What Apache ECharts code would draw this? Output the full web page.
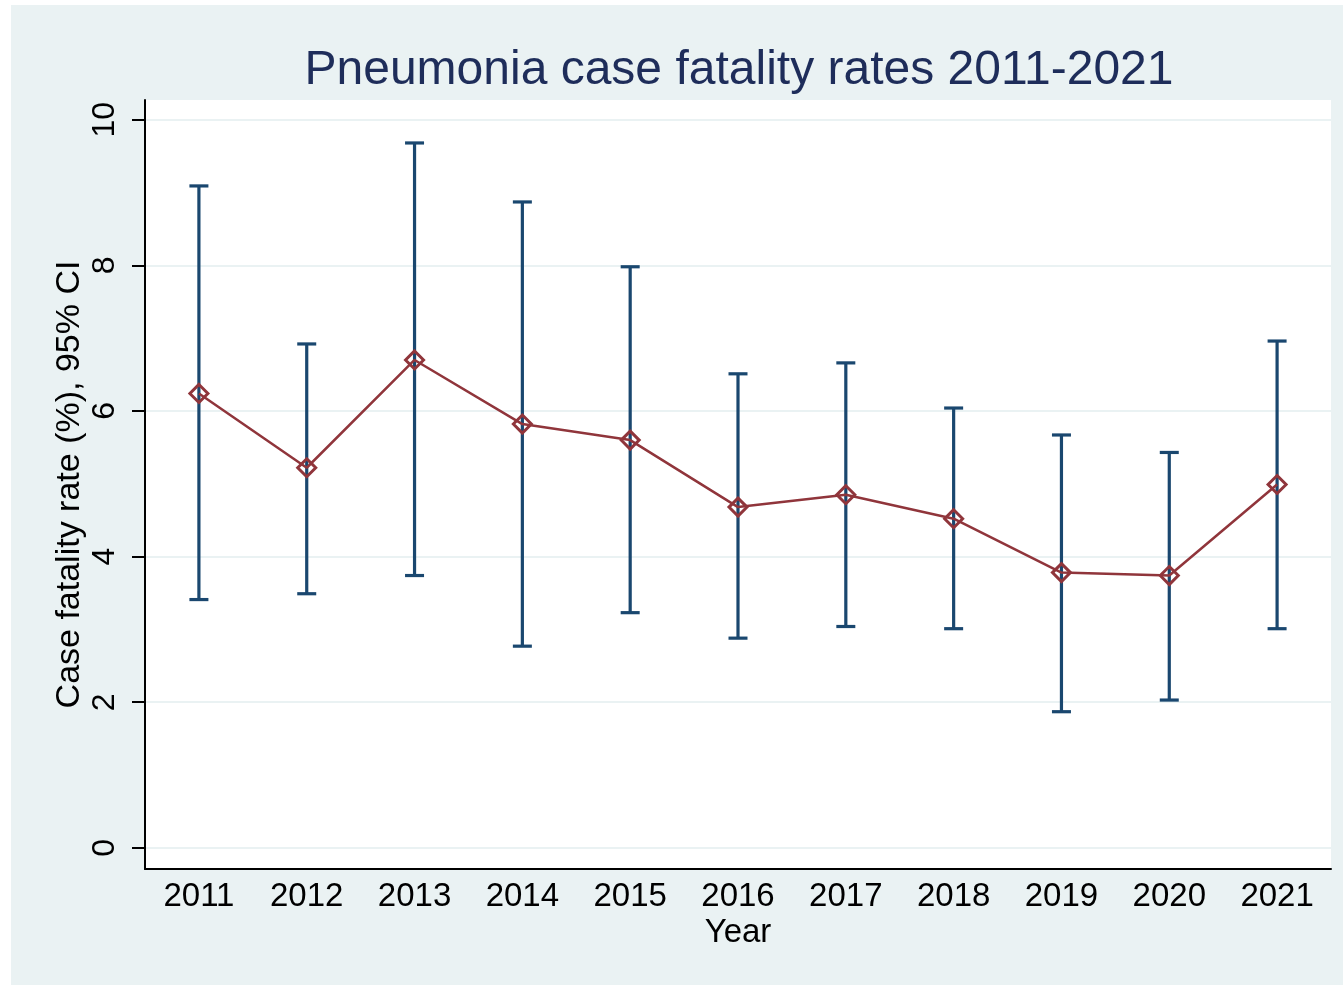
<!DOCTYPE html>
<html>
<head>
<meta charset="utf-8">
<script src="https://cdn.jsdelivr.net/npm/echarts@6/dist/echarts.min.js"></script>
<style>
    html, body { margin: 0; padding: 0; background: #fff; }
    #chart { width: 1343px; height: 985px; }
</style>
</head>
<body>
<div id="chart"></div>
<script>
var years = ['2011', '2012', '2013', '2014', '2015', '2016', '2017', '2018', '2019', '2020', '2021'];
var rate = [6.24, 5.22, 6.70, 5.82, 5.60, 4.68, 4.85, 4.52, 3.78, 3.74, 4.99];
var ciLow = [3.41, 3.49, 3.74, 2.77, 3.23, 2.88, 3.04, 3.01, 1.87, 2.03, 3.01];
var ciHigh = [9.09, 6.92, 9.68, 8.87, 7.98, 6.51, 6.66, 6.04, 5.67, 5.43, 6.96];
var yTicks = [0, 2, 4, 6, 8, 10];

var font = 'Liberation Sans, Arial, sans-serif';
var navy = '#1a476f';
var maroon = '#90353b';

var ciData = [];
for (var i = 0; i < years.length; i++) {
    ciData.push([i, ciLow[i], ciHigh[i]]);
}

function renderCI(params, api) {
    var x = api.value(0);
    var lo = api.coord([x, api.value(1)]);
    var hi = api.coord([x, api.value(2)]);
    var cap = 9.5;
    var style = { stroke: navy, lineWidth: 3.2 };
    return {
        type: 'group',
        children: [
            { type: 'line', shape: { x1: lo[0], y1: lo[1], x2: hi[0], y2: hi[1] }, style: style },
            { type: 'line', shape: { x1: hi[0] - cap, y1: hi[1], x2: hi[0] + cap, y2: hi[1] }, style: style },
            { type: 'line', shape: { x1: lo[0] - cap, y1: lo[1], x2: lo[0] + cap, y2: lo[1] }, style: style }
        ]
    };
}

var chart = echarts.init(document.getElementById('chart'));
chart.setOption({
    backgroundColor: '#ffffff',
    animation: false,
    graphic: [
        { type: 'rect', z: -10, shape: { x: 11, y: 5, width: 1332, height: 980 }, style: { fill: '#eaf2f3' } },
        { type: 'rect', z: -9, shape: { x: 145, y: 100, width: 1186, height: 769 }, style: { fill: '#ffffff' } }
    ],
    title: {
        text: 'Pneumonia case fatality rates 2011-2021',
        left: 734,
        top: 42,
        textAlign: 'center',
        textStyle: { fontFamily: font, fontSize: 48, fontWeight: 'normal', color: '#1e2d5a' }
    },
    grid: { left: 145, right: 12, top: 100, bottom: 116 },
    xAxis: {
        type: 'category',
        data: years,
        boundaryGap: true,
        name: 'Year',
        nameLocation: 'middle',
        nameGap: 47,
        nameMoveOverlap: false,
        nameTextStyle: { fontFamily: font, fontSize: 33, color: '#000' },
        axisLine: { onZero: false, lineStyle: { color: '#000', width: 2 } },
        axisTick: { show: false },
        axisLabel: { fontFamily: font, fontSize: 33, color: '#000', margin: 11, interval: 0 },
        splitLine: { show: false }
    },
    yAxis: {
        type: 'value',
        min: -0.29,
        max: 10.27,
        name: 'Case fatality rate (%), 95% CI',
        nameLocation: 'middle',
        nameRotate: 90,
        nameGap: 58,
        nameMoveOverlap: false,
        nameTextStyle: { fontFamily: font, fontSize: 34, color: '#000' },
        axisLine: { show: true, lineStyle: { color: '#000', width: 2 } },
        axisTick: { show: true, customValues: yTicks, length: 13, lineStyle: { color: '#000', width: 2 } },
        axisLabel: { customValues: yTicks, rotate: 90, fontFamily: font, fontSize: 32, color: '#000', margin: 24 },
        splitLine: { show: true, lineStyle: { color: '#eaf2f3', width: 2 } }
    },
    series: [
        {
            type: 'custom',
            name: 'CI',
            data: ciData,
            renderItem: renderCI,
            z: 2
        },
        {
            type: 'line',
            name: 'Rate',
            data: rate,
            symbol: 'diamond',
            symbolSize: 18,
            showAllSymbol: true,
            lineStyle: { color: maroon, width: 2.5 },
            itemStyle: { color: 'rgba(255,255,255,0)', borderColor: maroon, borderWidth: 3 },
            z: 3
        }
    ]
});
</script>
</body>
</html>
